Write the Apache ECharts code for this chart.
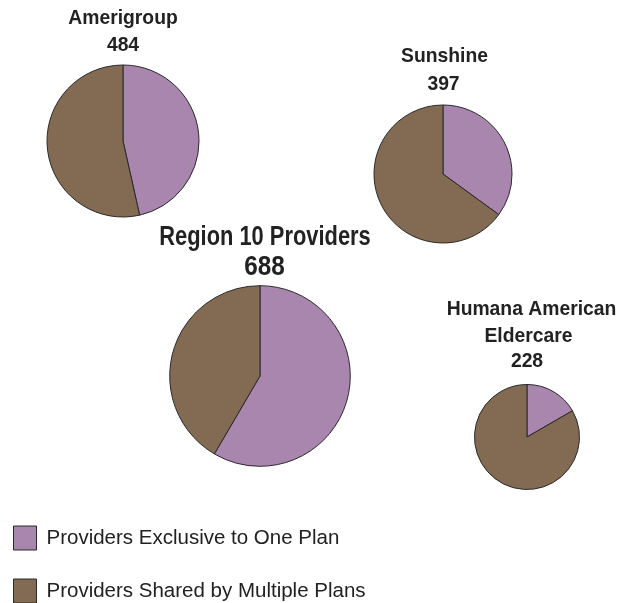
<!DOCTYPE html>
<html><head><meta charset="utf-8">
<script src="https://cdn.jsdelivr.net/npm/echarts@6/dist/echarts.min.js"></script>
<style>html,body{margin:0;padding:0;background:#fff}#c{width:618px;height:603px}</style>
</head><body><div id="c"></div>
<script>
const categories = ['Providers Exclusive to One Plan', 'Providers Shared by Multiple Plans'];
const planLines = [['Amerigroup'], ['Sunshine'], ['Region 10 Providers'], ['Humana American', 'Eldercare']];
const totals = [484, 397, 688, 228];
const exclusive = [225, 139, 402, 38];
const shared = [259, 258, 286, 190];
const colors = ['#A886AE', '#826A53'];

// layout: pie centre/radius and title line positions [x, yMiddle, fontSize, scaleX]
const layout = [
  {center: [123, 141], r: 76, lines: [[123, 18.5, 21, 0.92], [123, 45.5, 21, 0.92]]},
  {center: [443, 174], r: 69, lines: [[444.5, 56, 21, 0.92], [443.5, 84.5, 21, 0.92]]},
  {center: [260, 376], r: 90.3, lines: [[265, 237.5, 27, 0.81], [264.5, 267.5, 27, 0.9]]},
  {center: [527, 437], r: 52.5, lines: [[531.5, 309.5, 21, 0.92], [528.5, 336, 21, 0.92], [527, 361, 21, 0.92]]}
];
const titleFont = '"Liberation Sans", Arial, sans-serif';

const chart = echarts.init(document.getElementById('c'), null, {renderer: 'canvas'});
const series = planLines.map((p, i) => ({
  type: 'pie',
  name: p.join(' '),
  center: layout[i].center,
  radius: [0, layout[i].r],
  startAngle: 90,
  clockwise: true,
  silent: true,
  animation: false,
  label: {show: false},
  labelLine: {show: false},
  itemStyle: {borderColor: '#2a2a2a', borderWidth: 1},
  emphasis: {disabled: true},
  data: [
    {name: categories[0], value: exclusive[i], itemStyle: {color: colors[0]}},
    {name: categories[1], value: shared[i], itemStyle: {color: colors[1]}}
  ]
}));

const graphics = [];
planLines.forEach((p, i) => {
  const texts = p.concat([String(totals[i])]);
  texts.forEach((t, j) => {
    const L = layout[i].lines[j];
    graphics.push({
      type: 'text',
      x: L[0], y: L[1],
      scaleX: L[3],
      originX: 0, originY: 0,
      silent: true,
      style: {
        text: t, x: 0, y: 0,
        textAlign: 'center', textVerticalAlign: 'middle',
        font: 'bold ' + L[2] + 'px ' + titleFont,
        fill: '#222'
      }
    });
  });
});

const legendBase = {
  orient: 'vertical',
  left: 13,
  padding: 0,
  itemWidth: 23, itemHeight: 24,
  icon: 'rect',
  selectedMode: false,
  itemStyle: {borderColor: '#2a2a2a', borderWidth: 1},
  textStyle: {fontFamily: '"Liberation Sans", Arial, sans-serif', fontSize: 20.5, color: '#222', lineHeight: 24, padding: [2, 0, 0, 5]}
};
chart.setOption({
  backgroundColor: '#fff',
  animation: false,
  color: colors,
  legend: [
    Object.assign({}, legendBase, {top: 525, data: [categories[0]]}),
    Object.assign({}, legendBase, {top: 578, data: [categories[1]]})
  ],
  graphic: graphics,
  series: series
});
</script></body></html>
